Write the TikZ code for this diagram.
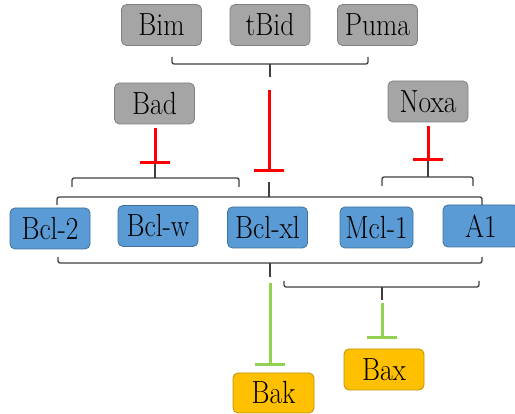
\documentclass[tikz,border=0pt]{standalone}
\usepackage{fontspec}
\usepackage{graphicx}
\usetikzlibrary{arrows.meta}
\definecolor{boxgray}{HTML}{A5A5A5}
\definecolor{edgegray}{HTML}{808080}
\definecolor{boxblue}{HTML}{5B9BD5}
\definecolor{edgeblue}{HTML}{41719C}
\definecolor{boxorange}{HTML}{FFC000}
\definecolor{edgeorange}{HTML}{BF9000}
\definecolor{inhred}{HTML}{FF0000}
\definecolor{inhgreen}{HTML}{92D050}
\definecolor{brackcol}{HTML}{3F3F3F}
\newcommand{\plabel}[1]{\scalebox{0.86}[1]{#1}}
\tikzset{
  protein/.style={rounded corners=5pt, line width=0.8pt, inner sep=0pt,
    minimum width=80pt, minimum height=41pt,
    font=\fontsize{32}{32}\selectfont},
  bh3/.style={protein, fill=boxgray, draw=edgegray},
  antiapo/.style={protein, fill=boxblue, draw=edgeblue},
  effector/.style={protein, fill=boxorange, draw=edgeorange},
  brack/.style={draw=brackcol, line width=1.3pt, rounded corners=2pt},
  redinh/.style={draw=inhred, line width=3pt, -{Bar[width=30pt]}},
  greeninh/.style={draw=inhgreen, line width=3pt, -{Bar[width=30pt]}}
}
\begin{document}
\begin{tikzpicture}[x=1pt, y=-1pt]
\useasboundingbox (0,0) rectangle (515,414);
\clip (0,0) rectangle (515,414);

% BH3-only activators and sensitizers
\node[bh3] (bim)  at (161.5,25) {\plabel{Bim}};
\node[bh3] (tbid) at (270,25) {\plabel{tBid}};
\node[bh3] (puma) at (377.5,25) {\plabel{Puma}};
\node[bh3] (bad)  at (154.5,103.5) {\plabel{Bad}};
\node[bh3] (noxa) at (428,101.5) {\plabel{Noxa}};

% anti-apoptotic family
\node[antiapo] (bcl2)  at (50,228.5) {\plabel{Bcl-2}};
\node[antiapo] (bclw)  at (158,226) {\plabel{Bcl-w}};
\node[antiapo] (bclxl) at (267.5,227.5) {\plabel{Bcl-xl}};
\node[antiapo, minimum width=73pt] (mcl1) at (376.5,227.5) {\plabel{Mcl-1}};
\node[antiapo, minimum width=76pt, minimum height=42pt] (a1) at (481,226) {\plabel{A1}};

% effectors
\node[effector, minimum width=81pt, minimum height=40pt] (bak) at (273.5,393) {\plabel{Bak}};
\node[effector] (bax) at (384,369.5) {\plabel{Bax}};

% bracket over Bim / tBid / Puma
\coordinate (topmid) at (270,64);
\draw[brack] (172,57) -- (172,64) -- (368,64) -- (368,57);
\draw[brack] (topmid) -- (270,77);
\coordinate (redA) at (269,90);
\coordinate (redAend) at (269,172);
\draw[redinh] (redA) -- (redAend);

% Bad onto Bcl-2 / Bcl-w
\coordinate (badbar) at (155,164);
\draw[redinh] (155,128) -- (badbar);
\draw[brack] (badbar) -- (155,178);
\draw[brack] (72,187) -- (72,178) -- (239,178) -- (239,187);

% Noxa onto Mcl-1 / A1
\coordinate (noxabar) at (428,161);
\draw[redinh] (428,126) -- (noxabar);
\draw[brack] (noxabar) -- (428,177);
\draw[brack] (382,186) -- (382,177) -- (473,177) -- (473,186);

% bracket over the whole anti-apoptotic row
\draw[brack] (269,182) -- (269,197);
\draw[brack] (57,205) -- (57,197) -- (482,197) -- (482,205);

% bracket under the whole row, towards Bak
\draw[brack] (58,257) -- (58,263) -- (482,263) -- (482,257);
\draw[brack] (270,263) -- (270,277);
\coordinate (bakbar) at (270,366);
\draw[greeninh] (270,283) -- (bakbar);

% bracket under Bcl-xl .. A1, towards Bax
\draw[brack] (284,281) -- (284,287) -- (479,287) -- (479,281);
\draw[brack] (382,287) -- (382,300);
\coordinate (baxbar) at (382,339);
\draw[greeninh] (382,303) -- (baxbar);
\end{tikzpicture}
\end{document}
